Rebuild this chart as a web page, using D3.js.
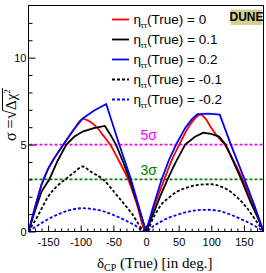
<!DOCTYPE html>
<html><head><meta charset="utf-8">
<script src="https://cdn.jsdelivr.net/npm/d3@7"></script>
<style>
html,body{margin:0;padding:0;background:#fff;}
svg{display:block;}
</style></head>
<body>
<script>
// ---- data (delta_CP in degrees, sigma) ----
const xTickLabels = [-150,-100,-50,0,50,100,150];
const yTickLabels = [0,5,10];
const legendLabels = ["0","0.1","0.2","-0.1","-0.2"];
const sigmaLevels = [5,3];

const etaZero = [[-180,0],[-170,1.4],[-160,2.7],[-150,3.6],[-140,4.25],[-127,4.98],[-110,5.9],[-97,6.48],[-85,6.3],[-74,5.94],[-65,5.5],[-55,5.0],[-42,4.1],[-28,3.05],[-15,1.7],[0,0],
  [10,1.15],[20,2.2],[28,3.0],[40,4.15],[51,5.0],[65,6.0],[75,6.5],[83,6.72],[92,6.45],[100,5.95],[110,5.45],[121,4.98],[135,4.0],[148,3.0],[160,1.95],[170,1.0],[180,0]];
const etaP01 = [[-180,0],[-170,1.2],[-160,2.3],[-148,3.0],[-135,4.1],[-122,5.0],[-110,5.45],[-97,5.75],[-80,5.95],[-63,6.07],[-55,5.6],[-46,5.0],[-35,4.0],[-25,3.0],[-12,1.45],[0,0],
  [12,1.1],[22,2.05],[33,3.0],[45,3.95],[60,5.0],[75,5.45],[88,5.68],[100,5.62],[112,5.46],[122,5.0],[134,4.0],[146,3.0],[160,1.7],[170,0.9],[180,0]];
const etaP02 = [[-180,0],[-170,1.4],[-160,2.7],[-150,3.6],[-140,4.25],[-127,4.98],[-110,5.9],[-97,6.5],[-80,6.95],[-61,7.33],[-50,6.05],[-41,5.0],[-23,3.0],[-10,1.3],[0,0],
  [10,1.3],[24,3.0],[35,4.1],[46,5.0],[60,5.95],[70,6.45],[79,6.75],[95,6.78],[113,6.72],[130,5.0],[151,3.0],[166,1.5],[180,0]];
const etaM01 = [[-180,0],[-165,0.95],[-150,2.0],[-135,2.65],[-122,3.05],[-110,3.4],[-97,3.74],[-85,3.45],[-66,3.0],[-45,2.1],[-22,1.05],[0,0],
  [12,0.85],[23,1.53],[35,1.95],[48,2.3],[65,2.55],[80,2.68],[99,2.72],[112,2.62],[125,2.4],[140,1.95],[155,1.34],[167,0.7],[180,0]];
const etaM02 = [[-180,0],[-168,0.3],[-155,0.6],[-140,0.9],[-130,1.06],[-115,1.25],[-97,1.34],[-80,1.28],[-64,1.15],[-50,0.95],[-33,0.67],[-18,0.38],[0,0],
  [10,0.28],[23,0.57],[35,0.8],[48,0.96],[65,1.15],[80,1.23],[94,1.25],[110,1.2],[130,0.96],[145,0.72],[160,0.46],[170,0.25],[180,0]];

const series = [
  {data: etaZero, color:"#ff0000", dash:null, curve:d3.curveMonotoneX},
  {data: etaP01, color:"#000000", dash:null, curve:d3.curveLinear},
  {data: etaP02, color:"#0000ff", dash:null, curve:d3.curveLinear},
  {data: etaM01, color:"#000000", dash:"3,2", curve:d3.curveMonotoneX},
  {data: etaM02, color:"#0000ff", dash:"3,2", curve:d3.curveMonotoneX}
];

const W = 266, H = 273;
const L = 28.5, R = 263.5, T = 5.5, B = 231.5;
const sans = "'Liberation Sans Narrow','Arial Narrow','Liberation Sans',sans-serif";
const serif = "'Liberation Serif','Times New Roman',serif";

const svg = d3.select("body").append("svg").attr("width",W).attr("height",H);
const x = d3.scaleLinear().domain([-180,180]).range([L,R]);
const y = d3.scaleLinear().domain([0,13]).range([B,T]);

// frame
svg.append("rect").attr("x",L).attr("y",T).attr("width",R-L).attr("height",B-T)
  .attr("fill","#fff").attr("stroke","#000").attr("stroke-width",1);

// sigma lines
const sigColors = ["#ff00ff","#008000"];
sigmaLevels.forEach((s,i)=>{
  svg.append("line").attr("x1",L+1).attr("x2",R-1).attr("y1",y(s)).attr("y2",y(s))
    .attr("stroke",sigColors[i]).attr("stroke-width",1.8).attr("stroke-dasharray","3,2");
});

// curves
const clip = svg.append("clipPath").attr("id","c").append("rect")
  .attr("x",L).attr("y",T).attr("width",R-L).attr("height",B-T);
series.forEach(s=>{
  const line = d3.line().x(d=>x(d[0])).y(d=>y(d[1])).curve(s.curve);
  svg.append("path").attr("d",line(s.data)).attr("fill","none")
    .attr("stroke",s.color).attr("stroke-width",1.8)
    .attr("stroke-dasharray",s.dash).attr("clip-path","url(#c)");
});

// axes
const gx = svg.append("g").attr("transform",`translate(0,${B})`)
  .call(d3.axisBottom(x).tickValues(xTickLabels).tickSize(-6).tickPadding(6.2).tickFormat(d3.format("d")));
const gxm = svg.append("g").attr("transform",`translate(0,${B})`)
  .call(d3.axisBottom(x).tickValues(d3.range(-170,180,10).filter(v=>v%50!==0)).tickSize(-3).tickFormat(""));
const gy = svg.append("g").attr("transform",`translate(${L},0)`)
  .call(d3.axisLeft(y).tickValues(yTickLabels).tickSize(-7).tickPadding(2).tickFormat(d3.format("d")));
const gym = svg.append("g").attr("transform",`translate(${L},0)`)
  .call(d3.axisLeft(y).tickValues(d3.range(1,13).filter(v=>v%5!==0)).tickSize(-4).tickFormat(""));
[gx,gxm,gy,gym].forEach(g=>{
  g.select(".domain").remove();
  g.selectAll("line").attr("stroke","#000").attr("stroke-width",1);
  g.selectAll("text").attr("font-family",sans).attr("font-size",11).attr("fill","#000");
});
gx.selectAll("text").text(d=>d<0? "-"+Math.abs(d) : d);

// sigma labels
svg.append("text").attr("x",140.5).attr("y",140).attr("fill","#ff00ff")
  .attr("font-family",sans).attr("font-size",14).text("5σ");
svg.append("text").attr("x",140.5).attr("y",174.5).attr("fill","#008000")
  .attr("font-family",sans).attr("font-size",14).text("3σ");

// legend
legendLabels.forEach((lab,i)=>{
  const s = series[i];
  const yy = 19.5 + i*20;
  svg.append("line").attr("x1",112).attr("x2",129).attr("y1",yy).attr("y2",yy)
    .attr("stroke",s.color).attr("stroke-width",1.8).attr("stroke-dasharray",s.dash);
  const t = svg.append("text").attr("x",133.5).attr("y",yy+4.5)
    .attr("font-family",sans).attr("font-size",13.5).attr("fill","#000");
  t.append("tspan").text("η");
  t.append("tspan").attr("font-size",8).attr("dy",4).attr("dx",-0.5).text("ττ");
  t.append("tspan").attr("x",147).attr("dy",-4).text("(True) = "+lab);
});

// DUNE box
svg.append("rect").attr("x",230.5).attr("y",9.5).attr("width",31.5).attr("height",15.5)
  .attr("fill","#d6d08c");
svg.append("text").attr("x",246.5).attr("y",21).attr("text-anchor","middle")
  .attr("font-family",sans).attr("font-weight","bold").attr("font-size",12).text("DUNE");

// x label
const xl = svg.append("text").attr("x",97).attr("y",268).attr("font-family",serif).attr("font-size",15);
xl.append("tspan").text("δ");
xl.append("tspan").attr("font-size",10).attr("dy",3).text("CP");
xl.append("tspan").attr("dy",-3).text(" (True) [in deg.]");

// y label (rotated)
const yl = svg.append("g").attr("transform","translate(15.5,141) rotate(-90)");
const t1 = yl.append("text").attr("x",0).attr("y",0).attr("font-family",serif).attr("font-size",16).text("σ = ");
const w1 = t1.node().getComputedTextLength();
const t2 = yl.append("text").attr("x",w1).attr("y",0).attr("font-family",serif).attr("font-size",17).text("√");
const w2 = t2.node().getComputedTextLength();
const t3 = yl.append("text").attr("x",w1+w2).attr("y",0).attr("font-family",serif).attr("font-size",15);
t3.append("tspan").text("Δχ");
t3.append("tspan").attr("font-size",9).attr("dy",-6).text("2");
const w3 = t3.node().getComputedTextLength();
yl.append("line").attr("x1",w1+w2-0.5).attr("x2",w1+w2+w3+1).attr("y1",-13).attr("y2",-13)
  .attr("stroke","#000").attr("stroke-width",1);
</script>
</body></html>
